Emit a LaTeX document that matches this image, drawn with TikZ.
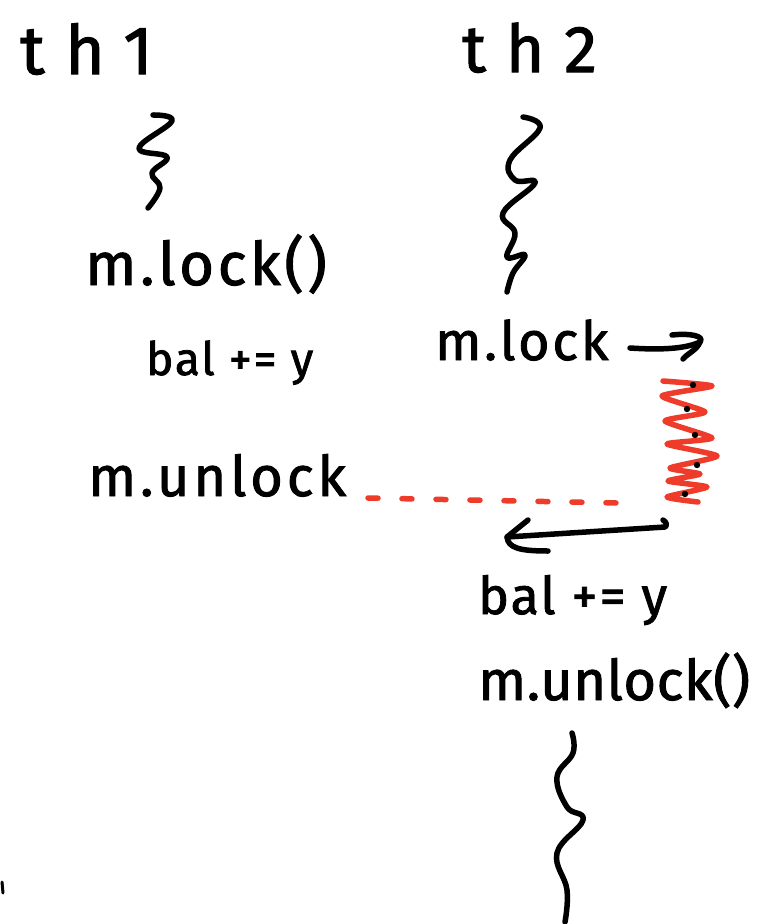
\documentclass[tikz,border=0pt]{standalone}
\usepackage{fontspec}
\setmainfont{Fira Sans}[FakeBold=1.6]
\usetikzlibrary{arrows.meta}
\definecolor{inkred}{RGB}{238,59,42}
\tikzset{
  ink/.style={line width=5.5pt, line cap=round, line join=round},
  label/.style={inner sep=0pt, anchor=base west, font=#1},
  squiggle/.style={ink, smooth, tension=0.7},
}
\newcommand{\hand}[2]{\fontsize{#1}{#1}\selectfont\addfontfeature{LetterSpace=#2}}
\begin{document}
\begin{tikzpicture}[x=1pt, y=-1pt]
\useasboundingbox (0,0) rectangle (765,924);

% thread headers
\node[label={\hand{68}{30}}] (th1) at (20,74) {th1};
\node[label={\hand{66}{30}}] (th2) at (462,72) {th2};

% thread 1
\draw[squiggle] plot coordinates {(153,115) (172,121) (139,148) (167,157) (152,173) (160,188) (148,208)};
\node[label={\hand{60}{6}}] (lock1) at (85,285) {m.lock()};
\node[label={\hand{46}{4}}] (bal1) at (146,375) {bal += y};
\node[label={\hand{56}{7}}] (unlock1) at (88,496) {m.unlock};

% thread 2
\draw[squiggle] plot coordinates {(523,117) (540,128) (510,160) (515,180) (535,183) (503,213) (515,233) (507,257) (525,255) (513,273) (507,292)};
\node[label={\hand{54}{5}}] (lock2) at (435,360) {m.lock};
\node[label={\hand{52}{4}}] (bal2) at (478,614) {bal += y};
\node[label={\hand{56}{1}}] (unlock2) at (478,700) {m.unlock()};
\draw[squiggle] plot coordinates {(572,733) (573,753) (557,777) (567,807) (583,820) (557,853) (567,890) (565,922)};

% blocking on the lock: shaft and hooked head
\coordinate (la0) at (630,348);
\coordinate (la1) at (700,342);
\draw[ink] (la0) .. controls (660,350) and (685,349) .. (la1);
\draw[ink] (672,335) .. controls (690,333) and (705,336) .. (la1) .. controls (697,350) and (688,353) .. (683,359);

% waiting (red spring) with dots
\draw[ink, inkred, smooth, tension=0.35] plot coordinates {(663,381) (712,386) (662,396) (705,412) (665,421) (712,438) (667,444) (717,456) (670,468) (700,474) (668,481) (707,487) (667,497) (698,502)};
\foreach \p in {(693,385),(687,409),(695,435),(697,465),(685,494)}
  \fill \p circle (3.2pt);

% release from thread 1
\coordinate (da0) at (368,498);
\coordinate (da1) at (620,503);
\draw[ink, inkred, dash pattern=on 10pt off 24pt] (da0) -- (da1);

% resuming thread 2: shaft and head
\coordinate (ra0) at (665,527);
\coordinate (ra1) at (507,537);
\draw[ink] (663,520) .. controls (667,522) and (667,526) .. (ra0) -- (ra1);
\draw[ink] (528,520) -- (ra1) .. controls (508,548) and (520,551) .. (548,551);

% stray mark at the left edge
\draw[line width=3pt, line cap=round] (2,882) -- (3,893);
\end{tikzpicture}
\end{document}
